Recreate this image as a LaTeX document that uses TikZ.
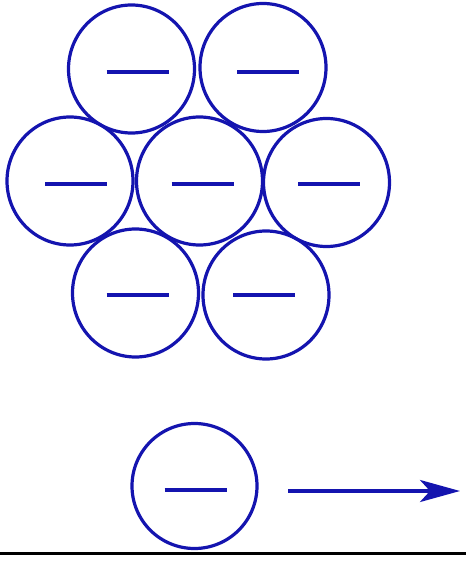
\documentclass[tikz,border=0pt]{standalone}
\usetikzlibrary{arrows.meta,shapes.geometric}
\definecolor{ionblue}{RGB}{20,20,175}
\begin{document}
\begin{tikzpicture}[x=1pt,y=-1pt,
  ion/.style={ellipse,draw=ionblue,line width=3.2pt,minimum width=126pt,minimum height=128pt,inner sep=0pt},
  minusbar/.style={draw=ionblue,line width=4.5pt}]
\useasboundingbox (0,0) rectangle (466,561);
\node[ion] (a) at (131.5,69) {};
\node[ion] (b) at (263,67.5) {};
\node[ion] (c) at (70,181) {};
\node[ion] (d) at (199.5,181) {};
\node[ion] (e) at (326.5,182.5) {};
\node[ion] (f) at (135.5,293) {};
\node[ion] (g) at (266,295) {};
\node[ion,minimum width=125pt,minimum height=125pt] (h) at (194.5,486) {};
\foreach \n/\dx/\dy in {a/6/3,b/5/4.5,c/6/3,d/3/3,e/2.5/1.5,f/2/2,g/-2/0,h/1/4}
  \draw[minusbar] ([xshift=\dx pt-31pt,yshift=-\dy pt]\n.center) -- ([xshift=\dx pt+31pt,yshift=-\dy pt]\n.center);
\coordinate (s) at (288,491);
\coordinate (t) at (460,491);
\draw[draw=ionblue,fill=ionblue,line width=3.5pt,-{Stealth[length=40pt,width=22pt,inset=10pt]}] (s) -- (t);
\coordinate (l0) at (0,553);
\coordinate (l1) at (466,553);
\draw[line width=3pt,black] (l0) -- (l1);
\end{tikzpicture}
\end{document}
